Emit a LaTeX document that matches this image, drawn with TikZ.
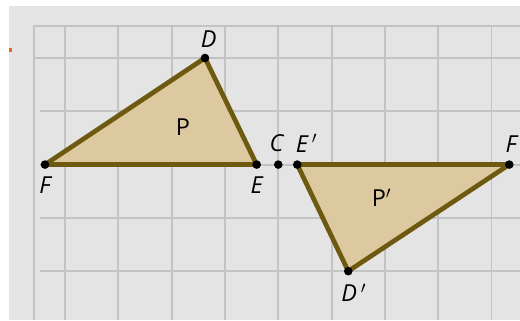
\documentclass[tikz,border=0pt]{standalone}
\usepackage{fontspec}
\setmainfont{Open Sans}
\usepackage{xcolor}
\definecolor{fig-paper}{HTML}{E4E4E4}
\definecolor{fig-grid}{HTML}{C3C3C3}
\definecolor{fig-tan}{HTML}{DCC9A0}
\definecolor{fig-edge}{HTML}{6E5910}
\definecolor{fig-mark}{HTML}{E8642C}
\usetikzlibrary{positioning,calc}

\begin{document}
\begin{tikzpicture}[
    font=\fontsize{12.5}{14}\selectfont,
    gridline/.style={draw=fig-grid, line width=1.05pt},
    triface/.style={draw=fig-edge, fill=fig-tan, line width=2.5pt, line join=round},
    vertex/.style={circle, fill=black, inner sep=0pt, minimum size=4.6pt},
    lbl/.style={inner sep=1pt, font=\fontsize{12.5}{14}\selectfont\itshape}
]
\useasboundingbox (-5.221,-2.916) rectangle (4.535,3.088);
\fill[fig-paper] (-5.05,-2.916) rectangle (4.535,2.976);
\fill[fig-mark] (-5.05,2.12) rectangle (-4.99,2.18);

% grid
\foreach \x in {-4,...,4} {
    \draw[gridline] (\x,-2.916) -- (\x,2.60);
}
\foreach \y in {-2,...,1} {
    \draw[gridline] (-4.47,\y) -- (4.535,\y);
}
\draw[gridline] (-4.58,2) -- (4.535,2);
\draw[gridline] (-4.58,-2.916) -- (-4.58,2.60) -- (4.535,2.60);

% P and its image
\coordinate (F) at (-4.377,0);
\coordinate (D) at (-1.375,2);
\coordinate (E) at (-0.405,0);
\coordinate (C) at (0,0);
\coordinate (Ep) at (0.356,0);
\coordinate (Fp) at (4.334,0);
\coordinate (Dp) at (1.313,-2);

\draw[triface] (F) -- (D) -- (E) -- cycle;
\draw[triface] (Ep) -- (Fp) -- (Dp) -- cycle;

\foreach \p in {F,D,E,C,Ep,Fp,Dp} {
    \node[vertex] (v\p) at (\p) {};
}

\node (lblP) at (-1.79,0.71) {P};
\node (lblPp) at (1.94,-0.63) {P$'$};

\node[lbl, above=2pt of vD, xshift=2pt] (lblD) {D};
\node[lbl, below=3pt of vF] (lblF) {F};
\node[lbl, below=3pt of vE] (lblE) {E};
\node[lbl, above=3pt of vC, xshift=-1pt] (lblC) {C};
\node[lbl, above=3pt of vEp, xshift=5pt] (lblEp) {E\,$'$};
\node[lbl, above=3pt of vFp, xshift=1pt] (lblFp) {F};
\node[lbl, below=3pt of vDp, xshift=3pt] (lblDp) {D\,$'$};
\end{tikzpicture}
\end{document}
